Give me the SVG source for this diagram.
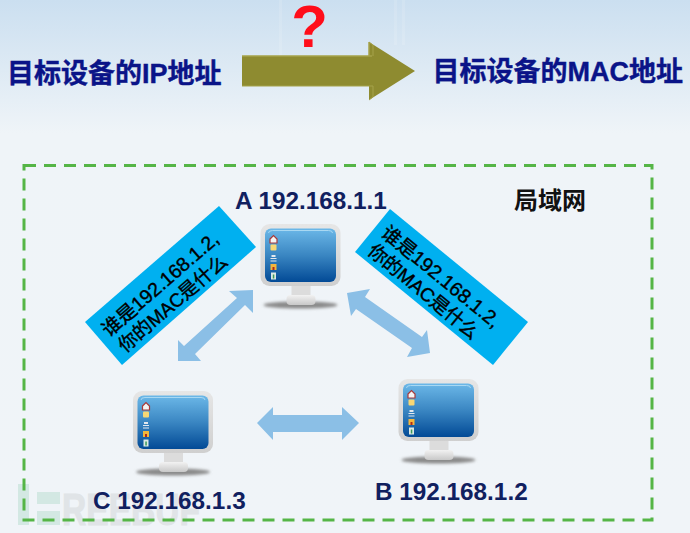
<svg xmlns="http://www.w3.org/2000/svg" width="690" height="533" viewBox="0 0 690 533">
<style>
text{font-family:"Liberation Sans","Noto Sans CJK SC",sans-serif}
.title{font-size:27px;font-weight:700;fill:#0a1488;stroke:#0a1488;stroke-width:.4px}
.ip{font-size:24.3px;font-weight:700;fill:#10205f}
.note{font-size:19px;fill:#000;stroke:#000;stroke-width:.4px;text-anchor:middle}
.box{fill:#00b0f0}
.dbl{fill:#8bbfe6}
</style>
<defs>
<linearGradient id="bg" x1="0" y1="0" x2="0" y2="1"><stop offset="0" stop-color="#cbdff0"/><stop offset="0.25" stop-color="#eff4f8"/><stop offset="1" stop-color="#f0f4f8"/></linearGradient>
<linearGradient id="frame" x1="0" y1="0" x2="0" y2="1"><stop offset="0" stop-color="#e6e6e6"/><stop offset="1" stop-color="#cfcfcf"/></linearGradient>
<linearGradient id="screen" x1="0" y1="0" x2="0" y2="1"><stop offset="0" stop-color="#6cb8e8"/><stop offset="0.5" stop-color="#3a86c2"/><stop offset="1" stop-color="#024a96"/></linearGradient>
<linearGradient id="foot" x1="0" y1="0" x2="0" y2="1"><stop offset="0" stop-color="#f2f2f2"/><stop offset="1" stop-color="#c8c8c8"/></linearGradient>
<filter id="blur" x="-20%" y="-200%" width="140%" height="500%"><feGaussianBlur stdDeviation="1.5"/></filter>
<symbol id="pc" width="84" height="90" viewBox="0 0 84 90" overflow="visible">
<ellipse cx="40" cy="81" rx="37" ry="3.6" fill="#8a8a8a" filter="url(#blur)"/>
<rect x="31" y="62" width="19" height="10" fill="#dcdcdc"/>
<rect x="26" y="71" width="29" height="10" rx="4" fill="url(#foot)"/>
<rect x="0" y="0" width="80" height="62" rx="9" fill="url(#frame)"/>
<rect x="4.500" y="4.500" width="71" height="53.500" rx="6" fill="url(#screen)"/>
<path d="M8 9Q8 6.500 12 6.500H68Q72 6.500 72 9" fill="none" stroke="#a9d8f2" stroke-width="1"/>
<path d="M9.500 15L13 11.500 16.500 15V19H9.500Z" fill="#f4f4f4" stroke="#a83a3a" stroke-width="1.200"/>
<rect x="10" y="20.500" width="6" height="6" rx="1" fill="#f7d774"/>
<path d="M10 34H16V35H10ZM11 31H15V33H11ZM10 36.500H16V37.500H10Z" fill="#e3e8ee"/>
<rect x="10" y="40" width="6" height="6" fill="#f3b63c"/><rect x="12" y="43" width="2" height="3" fill="#b02a1a"/>
<rect x="10.500" y="48.500" width="5" height="7" fill="#dbe9e4"/><rect x="12.300" y="50.500" width="1.500" height="4" fill="#3a9a5a"/>
</symbol>
</defs>
<rect width="690" height="533" fill="url(#bg)"/>
<g id="streaks" fill="#fff" opacity="0.12"><rect x="279" y="0" width="3" height="60"/><rect x="394" y="0" width="3" height="45"/><rect x="402" y="0" width="3" height="45"/></g>
<g id="watermark">
<g fill="#d3e8e3"><rect x="18" y="484" width="11" height="41"/><rect x="37" y="492" width="23" height="12"/><rect x="37" y="511" width="23" height="14"/></g>
<text x="62" y="525" font-size="44" font-weight="700" fill="#e0e4e7" stroke="#e0e4e7" textLength="138" lengthAdjust="spacingAndGlyphs">REEBUF</text>
</g>
<rect id="lan-boundary" x="24" y="165.500" width="628" height="354.500" fill="none" stroke="#55b546" stroke-width="3" stroke-dasharray="12 8"/>
<g id="source-label"><text class="title" x="7" y="83">目标设备的IP地址</text></g>
<g id="target-label"><text class="title" x="432.500" y="81">目标设备的MAC地址</text></g>
<g id="question"><text x="309.500" y="47" font-size="60" font-weight="700" fill="#ff0d1a" text-anchor="middle">?</text></g>
<g id="lan-label"><text x="514" y="209" font-size="24" font-weight="700" fill="#111">局域网</text></g>
<g id="connectors">
<path d="M242 56H369V42L415 71 369 100V86H242Z" fill="#8e8b30"/>
<path d="M242 56H372M369 56V42" stroke="#a5a24a" stroke-width="1.500" fill="none"/>
<path d="M369 42L373 45V56M369 100L373 97V86H242" stroke="#a5a24a" stroke-width="1" fill="none"/>
<polygon class="dbl" points="253,290 253,313 245,305 195,354 201,361 178,361 178,340 184,346 237,298 229,291"/>
<polygon class="dbl" points="347,293 370,289 365,297 422,337 427,330 430,353 407,357 412,348 356,309 351,316"/>
<polygon class="dbl" points="257,423 273,407 273,415 342,415 342,407 359,423 342,440 342,432 273,432 273,440"/>
</g>
<g id="note-left">
<polygon class="box" points="219,206 256,247 122,365 85,322"/>
<g transform="translate(170.500 285.500) rotate(-41)"><text class="note" x="-7" y="-1" style="font-size:19.500px">谁是192.168.1.2,</text><text class="note" x="-10" y="21.500">你的MAC是什么</text></g>
</g>
<g id="note-right">
<polygon class="box" points="390,209 528,322 493,365 355,252"/>
<g transform="translate(441.500 287) rotate(39.500)"><text class="note" x="-7" y="-1" style="font-size:19.500px">谁是192.168.1.2,</text><text class="note" x="-11" y="21.500">你的MAC是什么</text></g>
</g>
<g id="host-a"><use href="#pc" x="260.500" y="224"/><text class="ip" x="235" y="209">A 192.168.1.1</text></g>
<g id="host-b"><use href="#pc" x="398.500" y="379"/><text class="ip" x="375" y="500">B 192.168.1.2</text></g>
<g id="host-c"><use href="#pc" x="133" y="391"/><text class="ip" x="93" y="509">C 192.168.1.3</text></g>
</svg>
